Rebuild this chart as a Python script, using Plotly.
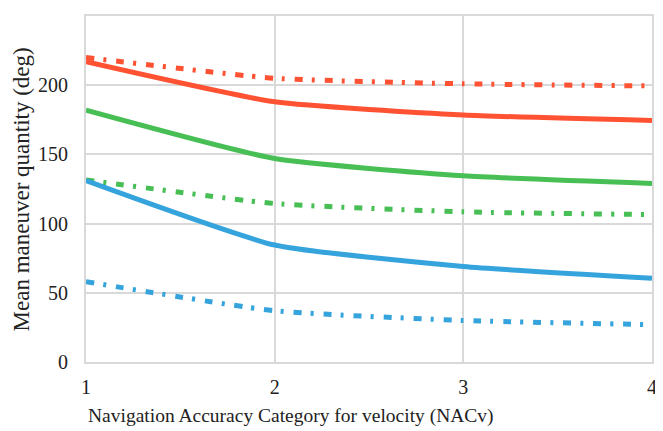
import plotly.graph_objects as go

nacv = [1, 2, 3, 4]
red_solid = [217, 188, 178.5, 174.5]
red_dashdot = [220, 205, 201, 199.5]
green_solid = [182, 147, 134.5, 129]
green_dashdot = [131.5, 114.5, 108.5, 106.5]
blue_solid = [131, 84.5, 69, 60.5]
blue_dashdot = [58, 37, 30, 27]
y_ticks = [0, 50, 100, 150, 200, 250]

RED = "#FF5233"
GREEN = "#47BF55"
BLUE = "#35A3DC"
DASH = "8px,9px,3px,10px"

series = [
    (red_dashdot, RED, DASH),
    (red_solid, RED, "solid"),
    (green_dashdot, GREEN, DASH),
    (green_solid, GREEN, "solid"),
    (blue_dashdot, BLUE, DASH),
    (blue_solid, BLUE, "solid"),
]

fig = go.Figure()
for vals, col, dash in series:
    fig.add_trace(go.Scatter(
        x=nacv, y=vals, mode="lines",
        line=dict(color=col, width=5, dash=dash, shape="spline", smoothing=0.5),
        showlegend=False,
    ))

FONT = "Liberation Serif, serif"
fig.update_layout(
    width=655, height=423,
    margin=dict(l=78, r=8, t=6, b=69),
    paper_bgcolor="white", plot_bgcolor="white",
    font=dict(family=FONT, size=20, color="#222"),
    annotations=[
        dict(text="Mean maneuver quantity (deg)", xref="paper", yref="paper",
             x=-0.114, y=0.5, xanchor="center", yanchor="middle",
             textangle=-90, showarrow=False, font=dict(size=23)),
        dict(text="Navigation Accuracy Category for velocity (NACv)", xref="paper", yref="paper",
             x=0.363, y=-0.157, xanchor="center", yanchor="middle",
             showarrow=False, font=dict(size=19.5)),
    ],
)
fig.update_xaxes(
    range=[1, 4], tickvals=nacv, ticktext=[str(v) for v in nacv],
    showgrid=True, gridcolor="#D9D9D9", gridwidth=1.5,
    showline=True, linecolor="#D9D9D9", linewidth=2, mirror=True,
    zeroline=False, ticks="", ticklabelstandoff=6,
)
fig.update_yaxes(
    range=[0, 250], tickvals=y_ticks,
    showgrid=True, gridcolor="#D9D9D9", gridwidth=1.5,
    showline=True, linecolor="#D9D9D9", linewidth=2, mirror=True,
    zeroline=False, ticks="", ticklabelstandoff=12,
)
fig.write_html("out.html")
